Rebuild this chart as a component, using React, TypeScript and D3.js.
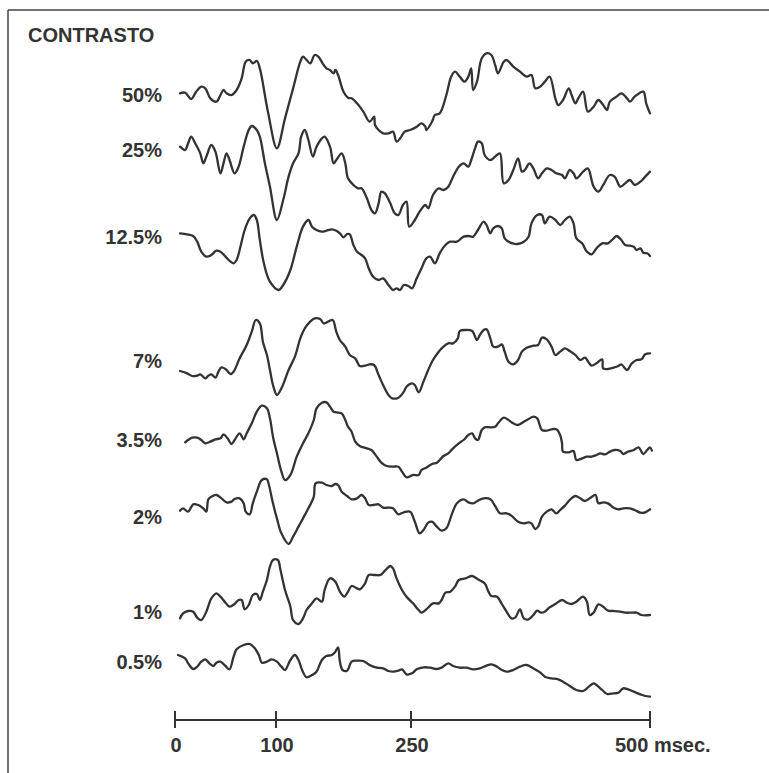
import React from 'react';
import * as d3 from 'd3';

type Pt = [number, number];

// Contrast levels (one trace each), top to bottom
const contrastLabels = ['50%', '25%', '12.5%', '7%', '3.5%', '2%', '1%', '0.5%'];

// Each trace: [time in ms, amplitude in arbitrary units (positive = up)]
const trace50: Pt[] = [[5,5],[10,7],[16,-12],[21,10],[26,25],[30,20],[35,-10],[41,-20],[45,0],[48,15],[51,5],[56,0],[61,15],[66,50],[70,100],[74,105],[77,95],[81,102],[84,80],[92,-50],[101,-160],[110,-70],[119,20],[127,100],[130,115],[134,105],[138,95],[143,120],[147,115],[153,90],[156,80],[160,75],[164,65],[166,75],[169,60],[175,10],[180,-8],[184,-10],[190,-25],[197,-50],[204,-80],[209,-65],[210,-90],[214,-105],[219,-115],[225,-115],[230,-110],[234,-140],[238,-130],[243,-110],[249,-105],[256,-95],[261,-85],[265,-95],[266,-105],[272,-80],[275,-60],[280,-55],[287,0],[292,55],[296,70],[301,55],[306,40],[310,55],[313,80],[315,15],[319,40],[324,110],[329,125],[334,120],[338,90],[341,65],[347,100],[350,105],[357,85],[364,70],[371,55],[376,60],[380,20],[385,25],[390,40],[395,55],[401,-10],[404,-30],[409,-15],[415,20],[418,0],[422,-25],[425,-10],[430,10],[435,-50],[441,-35],[446,-15],[451,-30],[455,-45],[458,-20],[465,-5],[470,5],[476,-10],[479,-20],[484,-5],[493,10],[496,-25],[500,-55]];

const trace25: Pt[] = [[5,70],[10,60],[13,80],[16,100],[20,80],[25,50],[28,20],[31,40],[36,75],[40,55],[45,-10],[48,20],[51,50],[54,30],[59,-10],[63,10],[68,70],[73,120],[76,132],[81,120],[84,100],[89,20],[94,-50],[101,-150],[108,-90],[114,-20],[119,20],[125,50],[128,100],[132,120],[136,90],[141,40],[145,70],[151,95],[154,100],[160,70],[164,20],[167,30],[173,50],[177,20],[180,-25],[186,-45],[191,-55],[195,-55],[201,-85],[206,-120],[210,-130],[214,-100],[217,-65],[221,-70],[227,-100],[232,-130],[236,-135],[241,-105],[245,-95],[248,-170],[254,-150],[259,-125],[265,-105],[268,-115],[273,-75],[279,-55],[284,-60],[289,-50],[294,-20],[300,10],[305,20],[310,10],[313,30],[317,65],[320,85],[324,80],[327,45],[333,30],[338,40],[343,50],[347,-40],[352,-30],[357,0],[362,35],[366,-5],[369,0],[374,20],[378,5],[383,-25],[387,-10],[392,5],[397,0],[402,-10],[408,-15],[411,-25],[416,0],[420,-10],[423,-25],[430,-5],[435,5],[441,-50],[446,-65],[451,-45],[458,-15],[463,-20],[469,-50],[474,-40],[479,-30],[484,-45],[490,-35],[495,-20],[500,-5]];

const trace12_5: Pt[] = [[5,50],[12,47],[18,42],[22,25],[26,-5],[31,-20],[36,-15],[41,-2],[45,-5],[50,-20],[55,-35],[58,-40],[61,-30],[64,0],[69,60],[74,95],[78,105],[81,90],[84,30],[88,-40],[94,-95],[103,-120],[108,-105],[116,-60],[123,10],[130,70],[136,90],[140,70],[145,60],[151,55],[156,58],[162,62],[167,58],[171,50],[175,38],[179,48],[182,47],[186,15],[190,-5],[195,-15],[199,-25],[203,-55],[208,-80],[214,-90],[219,-85],[225,-105],[230,-120],[234,-115],[238,-120],[242,-105],[247,-108],[251,-115],[256,-85],[261,-55],[266,-25],[270,-20],[275,-40],[280,-10],[286,15],[291,25],[298,25],[305,40],[310,42],[315,40],[320,60],[326,85],[329,75],[333,50],[336,65],[341,72],[345,65],[348,35],[354,22],[361,18],[368,25],[373,40],[376,80],[382,105],[387,105],[390,80],[395,100],[401,90],[406,75],[411,90],[416,100],[420,80],[423,35],[429,20],[434,-5],[439,-13],[444,5],[450,20],[456,20],[462,35],[465,42],[470,30],[474,15],[479,13],[483,10],[486,0],[490,5],[493,-8],[497,-10],[500,-18]];

const trace7: Pt[] = [[5,-48],[12,-55],[17,-63],[22,-62],[25,-58],[30,-70],[33,-62],[36,-58],[40,-68],[43,-50],[46,-37],[50,-42],[55,-57],[58,-50],[64,-10],[71,30],[76,70],[80,105],[84,95],[87,40],[91,0],[94,-45],[97,-90],[101,-120],[106,-100],[114,-45],[121,-5],[127,50],[132,80],[138,100],[143,110],[149,108],[153,95],[158,100],[163,105],[167,70],[171,45],[177,25],[182,0],[188,-10],[193,-33],[199,-32],[204,-28],[209,-30],[214,-60],[219,-90],[225,-120],[229,-130],[236,-128],[242,-110],[245,-95],[251,-85],[254,-90],[258,-112],[263,-80],[268,-45],[273,-15],[279,10],[284,25],[289,35],[294,35],[299,50],[301,72],[307,75],[314,72],[319,45],[322,60],[326,75],[329,77],[333,50],[336,25],[341,25],[345,32],[348,10],[352,-20],[357,-28],[362,-15],[366,10],[371,22],[378,28],[383,30],[387,52],[392,47],[397,25],[401,0],[406,10],[411,20],[416,12],[422,0],[427,-15],[432,-8],[436,-23],[439,-32],[444,-25],[450,-13],[451,-40],[456,-42],[462,-38],[467,-33],[470,-28],[476,-45],[481,-25],[486,-15],[491,-13],[495,2],[500,5]];

const trace3_5: Pt[] = [[10,-7],[13,0],[17,7],[22,7],[26,0],[30,-10],[35,-5],[40,2],[45,5],[48,17],[52,5],[56,-12],[59,0],[64,20],[68,2],[71,20],[76,50],[81,85],[86,103],[91,95],[94,65],[97,10],[101,-40],[106,-95],[110,-120],[116,-105],[123,-50],[130,-10],[136,20],[142,60],[145,95],[151,112],[156,113],[160,100],[164,85],[169,82],[173,80],[177,60],[180,40],[184,25],[188,-5],[193,-18],[201,-25],[206,-30],[212,-50],[217,-68],[223,-78],[230,-80],[236,-80],[240,-95],[245,-112],[252,-105],[258,-105],[261,-90],[266,-83],[272,-72],[277,-68],[280,-60],[284,-48],[289,-40],[294,-25],[300,-10],[305,0],[310,15],[314,20],[317,5],[320,0],[324,30],[327,38],[333,38],[338,40],[341,50],[347,67],[352,60],[357,50],[362,45],[368,55],[373,63],[378,70],[382,65],[387,30],[392,28],[397,32],[402,32],[406,15],[408,-10],[409,-35],[415,-37],[420,-33],[423,-60],[429,-55],[434,-50],[439,-50],[444,-45],[448,-40],[453,-43],[458,-35],[463,-30],[469,-33],[472,-42],[477,-35],[483,-30],[488,-22],[493,-42],[497,-30],[500,-22],[502,-32]];

const trace2: Pt[] = [[5,28],[8,35],[13,25],[18,47],[23,45],[28,35],[31,25],[33,62],[36,70],[41,75],[46,65],[51,53],[56,55],[59,63],[64,65],[68,50],[70,25],[74,17],[77,50],[81,85],[86,120],[91,122],[93,105],[97,50],[101,5],[106,-40],[114,-72],[119,-50],[125,-20],[130,5],[136,35],[142,70],[144,110],[151,112],[156,105],[162,102],[166,108],[169,105],[173,85],[179,72],[184,62],[190,65],[195,75],[199,65],[203,45],[208,45],[214,47],[219,37],[225,37],[230,35],[236,17],[242,23],[249,25],[254,-5],[259,-40],[263,-30],[268,-8],[272,-5],[277,-20],[282,-32],[287,-25],[293,20],[298,50],[305,62],[310,53],[315,50],[320,58],[326,65],[333,62],[338,42],[343,20],[350,20],[355,13],[362,-5],[368,-10],[373,-7],[376,-10],[380,-27],[383,-20],[387,10],[392,25],[397,32],[402,20],[406,30],[411,43],[416,60],[422,72],[427,65],[432,57],[437,65],[443,75],[446,50],[451,53],[456,50],[462,37],[467,32],[472,35],[479,35],[484,30],[490,22],[495,23],[500,32]];

const trace1: Pt[] = [[5,-55],[8,-40],[13,-33],[18,-35],[22,-53],[26,-60],[31,-35],[36,5],[41,20],[45,10],[50,-8],[54,-20],[59,-12],[63,0],[66,0],[69,-28],[73,-15],[77,15],[81,18],[84,0],[87,25],[91,60],[94,100],[97,120],[102,120],[105,90],[110,30],[116,-20],[119,-60],[125,-72],[130,-55],[134,-30],[140,-10],[145,5],[151,-5],[154,30],[160,65],[166,55],[171,25],[176,10],[180,25],[184,42],[190,35],[193,32],[199,50],[203,75],[210,75],[216,75],[221,88],[227,102],[230,95],[234,65],[240,30],[245,10],[252,-10],[258,-30],[261,-38],[266,-28],[273,-10],[279,-10],[282,0],[286,22],[291,25],[296,40],[300,60],[307,65],[314,72],[320,62],[327,50],[331,25],[334,12],[340,10],[345,-12],[350,-35],[355,-55],[359,-53],[364,-28],[368,-55],[373,-58],[378,-45],[382,-32],[386,-38],[390,-35],[395,-22],[401,-12],[408,0],[413,-8],[418,-12],[423,-5],[430,10],[434,-5],[437,-45],[441,-38],[446,-13],[451,-20],[456,-32],[462,-33],[469,-35],[474,-38],[481,-38],[486,-38],[491,-45],[500,-45]];

const trace0_5: Pt[] = [[3,75],[10,65],[13,50],[18,33],[22,40],[26,55],[30,62],[34,50],[38,42],[41,52],[45,55],[50,42],[54,32],[58,70],[61,92],[68,105],[74,108],[79,95],[83,75],[86,52],[91,55],[96,62],[101,55],[106,40],[110,30],[116,60],[121,75],[125,60],[129,30],[134,8],[140,15],[145,25],[151,60],[156,72],[162,75],[166,85],[169,98],[171,55],[174,30],[179,28],[184,55],[190,58],[197,57],[204,45],[212,37],[219,35],[225,27],[230,25],[236,28],[240,32],[245,17],[251,20],[256,32],[263,38],[270,37],[277,33],[282,37],[289,50],[294,42],[301,37],[308,37],[315,32],[322,35],[329,43],[334,47],[340,40],[345,30],[350,25],[357,30],[364,40],[371,45],[378,35],[385,23],[390,10],[397,5],[404,2],[409,-5],[416,-18],[423,-30],[430,-33],[436,-20],[441,-10],[444,-15],[450,-30],[455,-42],[462,-40],[467,-38],[472,-25],[477,-28],[483,-35],[490,-43],[495,-48],[500,-50]];

const traces: Pt[][] = [trace50, trace25, trace12_5, trace7, trace3_5, trace2, trace1, trace0_5];

// Time axis (msec), drawn non-uniformly in the original figure
const tickValues = [0, 100, 250, 500];
const tickLabels = ['0', '100', '250', '500 msec.'];
const axisPixelStops = [175, 276, 411, 650];

const title = 'CONTRASTO';

export default function App() {
  const W = 769;
  const H = 773;
  const ink = '#333';
  const font = '"Liberation Sans", Arial, Helvetica, sans-serif';

  const x = d3.scaleLinear().domain(tickValues).range(axisPixelStops);
  const amp = d3.scaleLinear().domain([-150, 150]).range([50, -50]);

  // Layout: vertical baseline of each trace and of each label
  const baselines = [95, 170, 250, 355, 440, 520, 600, 680];
  const labelCenters = [95, 150, 237, 361, 440, 517, 612, 662];

  const line = d3
    .line<Pt>()
    .x((d) => x(d[0]))
    .y((d) => amp(d[1]))
    .curve(d3.curveCatmullRom.alpha(0.5));

  const axisY = 720;

  return (
    <svg
      width={W}
      height={H}
      viewBox={`0 0 ${W} ${H}`}
      style={{ position: 'absolute', left: 0, top: 0, background: '#fff' }}
    >
      <rect x={0} y={0} width={W} height={H} fill="#fff" />
      {/* frame: top and left rules */}
      <line x1={8} y1={10} x2={W} y2={10} stroke="#444" strokeWidth={1.5} />
      <line x1={8} y1={10} x2={8} y2={H} stroke="#444" strokeWidth={1.5} />

      <text x={28} y={42} fontFamily={font} fontWeight="bold" fontSize={20} fill={ink}>
        {title}
      </text>

      {contrastLabels.map((lab, i) => (
        <text
          key={lab}
          x={162}
          y={labelCenters[i] + 7}
          textAnchor="end"
          fontFamily={font}
          fontWeight="bold"
          fontSize={20}
          fill={ink}
        >
          {lab}
        </text>
      ))}

      {traces.map((tr, i) => (
        <g key={i} transform={`translate(0,${baselines[i]})`}>
          <path
            d={line(tr) || ''}
            fill="none"
            stroke={ink}
            strokeWidth={2.3}
            strokeLinejoin="round"
            strokeLinecap="round"
          />
        </g>
      ))}

      {/* time axis */}
      <g>
        <line x1={x(0)} y1={axisY} x2={x(500)} y2={axisY} stroke={ink} strokeWidth={2} />
        {tickValues.map((t, i) => (
          <g key={t}>
            <line x1={x(t)} y1={axisY - 9} x2={x(t)} y2={axisY + 8} stroke={ink} strokeWidth={2} />
            <text
              x={i === tickValues.length - 1 ? x(t) - 35 : x(t) + 1}
              y={axisY + 32}
              textAnchor={i === tickValues.length - 1 ? 'start' : 'middle'}
              fontFamily={font}
              fontWeight="bold"
              fontSize={20}
              fill={ink}
            >
              {tickLabels[i]}
            </text>
          </g>
        ))}
      </g>
    </svg>
  );
}
